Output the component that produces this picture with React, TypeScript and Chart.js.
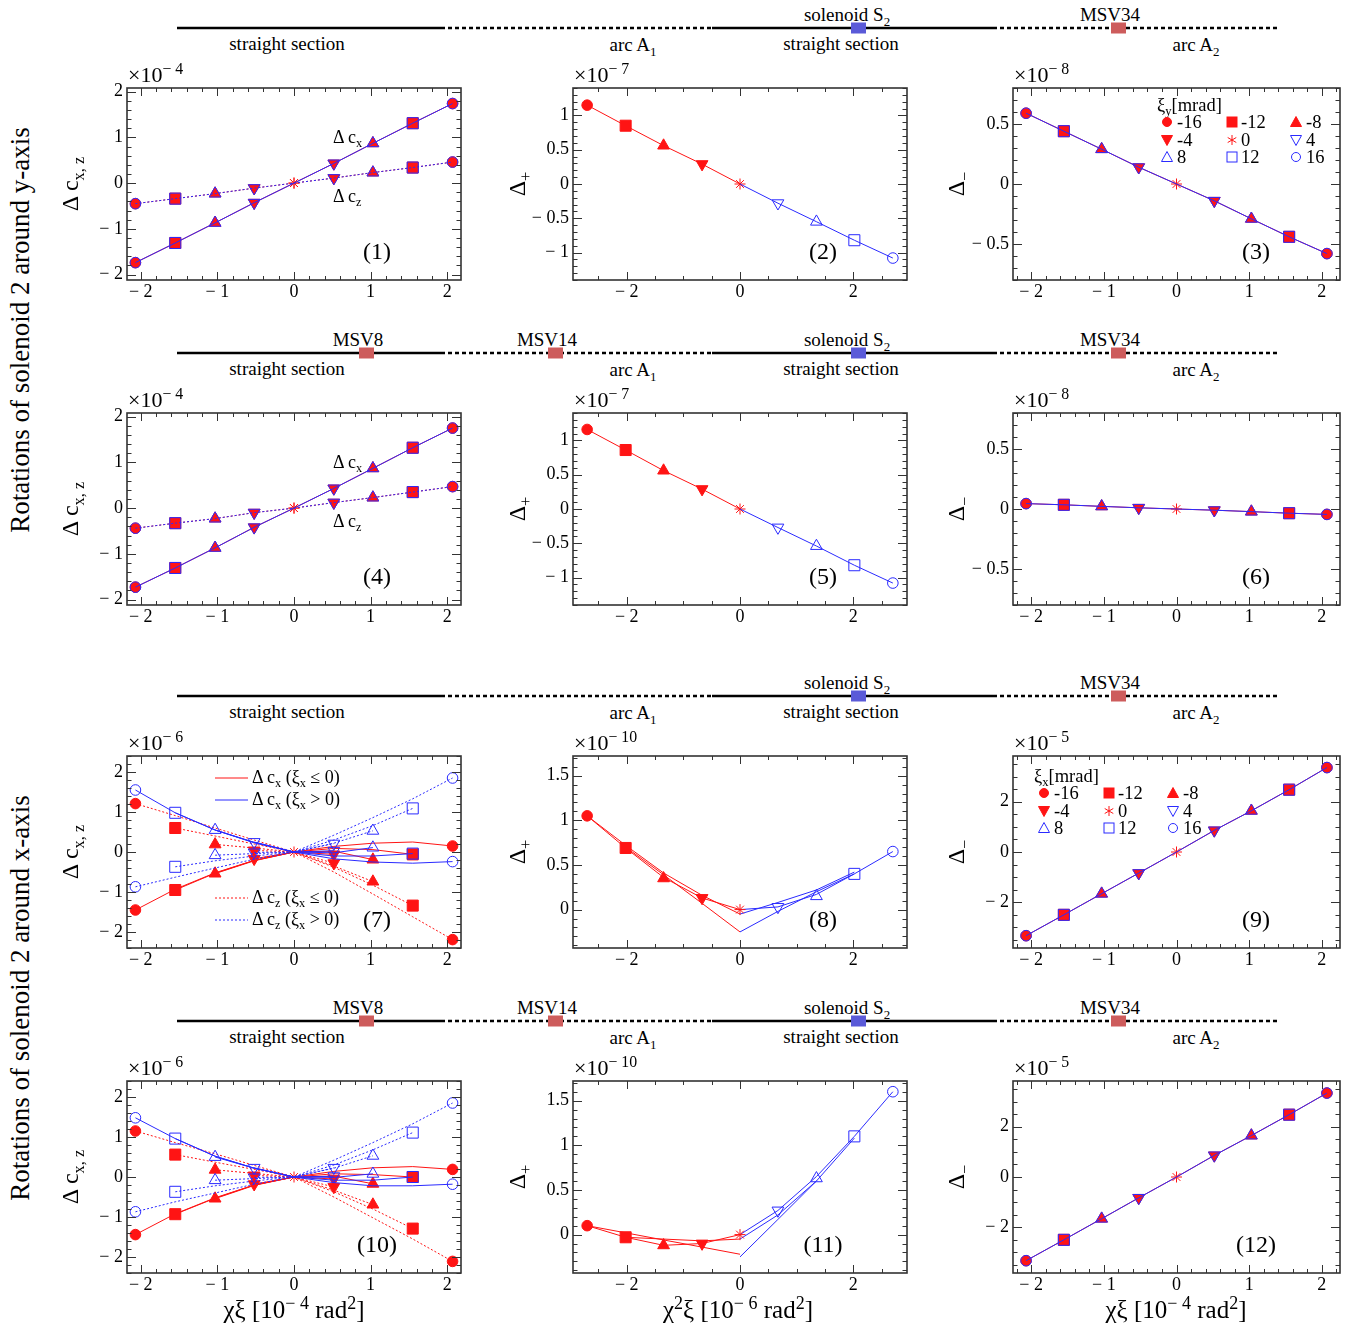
import React, { useRef, useEffect } from 'react';
import { Chart, registerables } from 'chart.js';

Chart.register(...registerables);

type V = number | null;

const FONT = '"Liberation Serif", "Times New Roman", serif';
const RED = '#ff1414';
const BLUE = '#2a2aff';
const MSV = '#cd5c5c';
const SOL = '#5a5ad8';

// x positions of the nine xi settings (-16 ... 16 mrad)
const chiXi: number[] = [-2.07, -1.55, -1.03, -0.52, 0, 0.52, 1.03, 1.55, 2.07];
const chi2Xi: number[] = [-2.7, -2.02, -1.35, -0.67, 0, 0.67, 1.35, 2.02, 2.7];
const xiLabels = ['-16', '-12', '-8', '-4', '0', '4', '8', '12', '16'];
const shapes = ['circle', 'rect', 'triangle', 'down', 'star', 'down', 'triangle', 'rect', 'circle'];

// tick labels
const xTicksA = [-2, -1, 0, 1, 2];
const xTicksB = [-2, 0, 2];
const yTicksDc = [-2, -1, 0, 1, 2];
const yTicksPlus = [-1, -0.5, 0, 0.5, 1];
const yTicksMinus = [-0.5, 0, 0.5];
const yTicksPlusX = [0, 0.5, 1, 1.5];
const yTicksMinusX = [-2, 0, 2];

// rotations around y-axis
const p1Dcx = [-1.74, -1.31, -0.87, -0.43, 0, 0.43, 0.87, 1.31, 1.74];
const p1Dcz = [-0.45, -0.34, -0.23, -0.11, 0, 0.11, 0.23, 0.34, 0.46];
const p2Dplus = [1.15, 0.85, 0.56, 0.29, 0, -0.28, -0.55, -0.82, -1.08];
const p3Dminus = [0.59, 0.44, 0.29, 0.14, 0, -0.14, -0.29, -0.44, -0.58];
const p4Dcx = [-1.73, -1.31, -0.87, -0.42, 0, 0.43, 0.87, 1.32, 1.75];
const p4Dcz = [-0.44, -0.33, -0.23, -0.1, 0, 0.12, 0.23, 0.35, 0.47];
const p5Dplus = [1.16, 0.86, 0.56, 0.29, 0, -0.27, -0.54, -0.82, -1.08];
const p6Dminus = [0.045, 0.035, 0.022, 0.01, 0, -0.01, -0.022, -0.035, -0.045];

// rotations around x-axis, panel 7: curves for xi = -16, -12, -8, -4 (red) and 16, 12, 8, 4 (blue)
const p7RedCx: V[][] = [
  [-1.45, -0.93, -0.52, -0.21, 0, 0.14, 0.22, 0.25, 0.15],
  [null, -0.95, -0.53, -0.21, 0, 0.09, 0.06, -0.06, null],
  [null, null, -0.54, -0.22, 0, 0.02, -0.19, null, null],
  [null, null, null, -0.17, 0, -0.06, null, null, null],
];
const p7RedCz: V[][] = [
  [1.21, 0.91, 0.6, 0.3, 0, -0.5, -1.05, -1.62, -2.19],
  [null, 0.6, 0.4, 0.2, 0, -0.38, -0.83, -1.34, null],
  [null, null, 0.19, 0.1, 0, -0.35, -0.74, null, null],
  [null, null, null, 0.04, 0, -0.28, null, null, null],
];
const p7BlueCx: V[][] = [
  [1.55, 0.98, 0.55, 0.23, 0, -0.17, -0.25, -0.28, -0.24],
  [null, 0.98, 0.55, 0.24, 0, -0.1, -0.1, -0.04, null],
  [null, null, 0.55, 0.24, 0, -0.02, 0.11, null, null],
  [null, null, null, 0.25, 0, 0.03, null, null, null],
];
const p7BlueCz: V[][] = [
  [-0.87, -0.63, -0.4, -0.18, 0, 0.42, 0.86, 1.33, 1.85],
  [null, -0.37, -0.22, -0.1, 0, 0.3, 0.66, 1.09, null],
  [null, null, -0.08, -0.04, 0, 0.22, 0.53, null, null],
  [null, null, null, -0.01, 0, 0.21, null, null, null],
];
// panel 8 (chi^2 xi axis)
const p8Red: V[][] = [
  [1.05, 0.69, 0.36, 0.13, 0, null, null, null, null],
  [1.05, 0.72, 0.41, 0.16, -0.05, null, null, null, null],
  [null, 0.7, 0.39, 0.07, -0.25, null, null, null, null],
];
const p8Blue: V[][] = [
  [null, null, null, null, 0, 0.03, 0.17, 0.4, 0.65],
  [null, null, null, null, -0.05, 0.08, 0.22, 0.42, null],
  [null, null, null, null, -0.25, -0.02, 0.2, 0.4, null],
];
const p8Marks = [1.05, 0.69, 0.35, 0.13, 0, 0.03, 0.15, 0.4, 0.65];
const p9Dminus = [-3.33, -2.5, -1.66, -0.84, 0, 0.86, 1.64, 2.48, 3.36];

// panel 10
const p10RedCx: V[][] = [
  [-1.44, -0.92, -0.52, -0.2, 0, 0.14, 0.23, 0.26, 0.19],
  [null, -0.93, -0.53, -0.2, 0, 0.08, 0.06, 0.0, null],
  [null, null, -0.54, -0.21, 0, 0.02, -0.17, null, null],
  [null, null, null, -0.18, 0, -0.05, null, null, null],
];
const p10RedCz: V[][] = [
  [1.15, 0.86, 0.58, 0.29, 0, -0.5, -1.02, -1.55, -2.11],
  [null, 0.56, 0.37, 0.19, 0, -0.37, -0.8, -1.29, null],
  [null, null, 0.18, 0.09, 0, -0.33, -0.69, null, null],
  [null, null, null, 0.04, 0, -0.25, null, null, null],
];
const p10BlueCx: V[][] = [
  [1.48, 0.96, 0.52, 0.22, 0, -0.14, -0.22, -0.22, -0.18],
  [null, 0.96, 0.52, 0.22, 0, -0.08, -0.08, 0.0, null],
  [null, null, 0.5, 0.22, 0, -0.01, 0.08, null, null],
  [null, null, null, 0.23, 0, 0.02, null, null, null],
];
const p10BlueCz: V[][] = [
  [-0.87, -0.62, -0.4, -0.18, 0, 0.42, 0.86, 1.33, 1.85],
  [null, -0.37, -0.22, -0.1, 0, 0.3, 0.68, 1.11, null],
  [null, null, -0.08, -0.04, 0, 0.22, 0.53, null, null],
  [null, null, null, -0.01, 0, 0.23, null, null, null],
];
// panel 11
const p11Red: V[][] = [
  [0.1, 0.02, -0.06, -0.14, -0.22, null, null, null, null],
  [0.1, -0.03, -0.05, -0.07, -0.05, null, null, null, null],
  [null, -0.03, -0.12, -0.1, 0, null, null, null, null],
];
const p11Blue: V[][] = [
  [null, null, null, null, 0, 0.27, 0.65, 1.1, 1.6],
  [null, null, null, null, -0.05, 0.22, 0.6, 1.08, null],
  [null, null, null, null, -0.25, 0.17, 0.6, null, null],
];
const p11Marks = [0.1, -0.03, -0.12, -0.1, 0, 0.27, 0.63, 1.1, 1.6];
const p12Dminus = [-3.33, -2.5, -1.66, -0.83, 0, 0.86, 1.65, 2.48, 3.34];

const RAD: Record<string, number> = { circle: 5.3, rect: 7.8, triangle: 6.8, down: 6.8, star: 5.5 };

function mkSet(
  xs: number[],
  ys: V[],
  color: string,
  filled: boolean,
  line: 'solid' | 'dot' | 'none',
  marks: 'all' | 'ends' | 'none',
  order: number
) {
  const pts = xs
    .map((x, k) => ({ x, y: ys[k], k }))
    .filter((p) => p.y !== null && p.y !== undefined) as { x: number; y: number; k: number }[];
  const k0 = pts[0].k;
  const k1 = pts[pts.length - 1].k;
  const shown = (k: number) =>
    (marks === 'all' || (marks === 'ends' && (k === k0 || k === k1))) && (filled || shapes[k] !== 'star');
  return {
    data: pts,
    showLine: line !== 'none',
    borderColor: color,
    borderWidth: 1,
    borderDash: line === 'dot' ? [2, 2] : [],
    backgroundColor: filled ? color : 'rgba(255,255,255,0)',
    pointStyle: pts.map((p) => (shapes[p.k] === 'down' ? 'triangle' : shapes[p.k])),
    pointRotation: pts.map((p) => (shapes[p.k] === 'down' ? 180 : 0)),
    pointRadius: pts.map((p) => (shown(p.k) ? RAD[shapes[p.k]] : 0)),
    pointBackgroundColor: filled ? color : 'rgba(255,255,255,0)',
    pointBorderColor: color,
    pointBorderWidth: 1,
    order,
  };
}

const leftHalf = (v: V[]) => v.map((y, k) => (k <= 4 ? y : null));
const rightHalf = (v: V[]) => v.map((y, k) => (k >= 4 ? y : null));

const dcSets = (cx: V[], cz: V[]) => [
  mkSet(chiXi, cx, BLUE, false, 'solid', 'all', 0),
  mkSet(chiXi, cz, BLUE, false, 'dot', 'all', 0),
  mkSet(chiXi, cx, RED, true, 'solid', 'all', 1),
  mkSet(chiXi, cz, RED, true, 'dot', 'all', 1),
];
const lineSets = (v: V[]) => [
  mkSet(chiXi, v, BLUE, false, 'solid', 'all', 0),
  mkSet(chiXi, v, RED, true, 'solid', 'all', 1),
];
const plusSets = (v: V[]) => [
  mkSet(chi2Xi, rightHalf(v), BLUE, false, 'solid', 'all', 0),
  mkSet(chi2Xi, leftHalf(v), RED, true, 'solid', 'all', 1),
];
const curveSets = (rcx: V[][], rcz: V[][], bcx: V[][], bcz: V[][]) => [
  ...bcx.map((c) => mkSet(chiXi, c, BLUE, false, 'solid', 'ends', 0)),
  ...bcz.map((c) => mkSet(chiXi, c, BLUE, false, 'dot', 'ends', 0)),
  ...rcx.map((c) => mkSet(chiXi, c, RED, true, 'solid', 'ends', 1)),
  ...rcz.map((c) => mkSet(chiXi, c, RED, true, 'dot', 'ends', 1)),
  mkSet(chiXi, [null, null, null, null, 0, null, null, null, null], RED, true, 'none', 'all', 0),
];
const vSets = (red: V[][], blue: V[][], marks: V[]) => [
  ...blue.map((c) => mkSet(chi2Xi, c, BLUE, false, 'solid', 'none', 1)),
  ...red.map((c) => mkSet(chi2Xi, c, RED, false, 'solid', 'none', 1)),
  mkSet(chi2Xi, rightHalf(marks).map((y, k) => (k === 4 ? null : y)), BLUE, false, 'none', 'all', 0),
  mkSet(chi2Xi, leftHalf(marks), RED, true, 'none', 'all', 0),
];

const framePlugin = {
  id: 'frame',
  afterDraw(chart: any, _args: any, o: any) {
    const { ctx, chartArea: a } = chart;
    const sx = chart.scales.x;
    const sy = chart.scales.y;
    const marks = (min: number, max: number, major: number, minor: number) => {
      const out: [number, boolean][] = [];
      const n0 = Math.ceil(min / minor - 1e-6);
      const n1 = Math.floor(max / minor + 1e-6);
      for (let n = n0; n <= n1; n++) {
        const v = n * minor;
        const r = v / major;
        out.push([v, Math.abs(r - Math.round(r)) < 1e-6]);
      }
      return out;
    };
    ctx.save();
    ctx.strokeStyle = '#333';
    ctx.lineWidth = 1;
    ctx.beginPath();
    for (const [v, big] of marks(sx.min, sx.max, o.xMajor, o.xMinor)) {
      const px = Math.round(sx.getPixelForValue(v)) + 0.5;
      const len = big ? 8 : 4;
      ctx.moveTo(px, a.bottom);
      ctx.lineTo(px, a.bottom - len);
      ctx.moveTo(px, a.top);
      ctx.lineTo(px, a.top + len);
    }
    for (const [v, big] of marks(sy.min, sy.max, o.yMajor, o.yMinor)) {
      const py = Math.round(sy.getPixelForValue(v)) + 0.5;
      const len = big ? 9 : 4.5;
      ctx.moveTo(a.left, py);
      ctx.lineTo(a.left + len, py);
      ctx.moveTo(a.right, py);
      ctx.lineTo(a.right - len, py);
    }
    ctx.stroke();
    ctx.lineWidth = 1.6;
    ctx.strokeRect(a.left, a.top, a.right - a.left, a.bottom - a.top);
    ctx.restore();
  },
};

const fmt = (v: any) => (Number(v) < 0 ? '\u2212 ' + String(-Number(v)) : String(v));

const PADL = 54;
const PADT = 24;
const PADR = 24;
const PADB = 30;

interface PanelProps {
  left: number;
  top: number;
  width: number;
  height: number;
  xr: [number, number];
  yr: [number, number];
  xTicks: number[];
  yTicks: number[];
  xStep: [number, number];
  yStep: [number, number];
  datasets: any[];
}

const Panel: React.FC<PanelProps> = (p) => {
  const ref = useRef<HTMLCanvasElement>(null);

  useEffect(() => {
    if (!ref.current) return;
    const tickFont = { family: FONT, size: 18 };
    const chart = new Chart(ref.current, {
      type: 'scatter',
      data: { datasets: p.datasets },
      options: {
        animation: false,
        responsive: true,
        maintainAspectRatio: false,
        events: [],
        layout: { padding: { left: 0, top: PADT, right: PADR, bottom: 0 } },
        plugins: {
          legend: { display: false },
          tooltip: { enabled: false },
          frame: { xMajor: p.xStep[0], xMinor: p.xStep[1], yMajor: p.yStep[0], yMinor: p.yStep[1] },
        } as any,
        scales: {
          x: {
            type: 'linear',
            min: p.xr[0],
            max: p.xr[1],
            afterBuildTicks: (s: any) => {
              s.ticks = p.xTicks.map((v) => ({ value: v }));
            },
            afterFit: (s: any) => {
              s.height = PADB;
            },
            grid: { display: false, drawTicks: false },
            border: { display: false },
            ticks: { font: tickFont, color: '#000', padding: 1, maxRotation: 0, autoSkip: false, callback: fmt },
          },
          y: {
            type: 'linear',
            min: p.yr[0],
            max: p.yr[1],
            afterBuildTicks: (s: any) => {
              s.ticks = p.yTicks.map((v) => ({ value: v }));
            },
            afterFit: (s: any) => {
              s.width = PADL;
            },
            grid: { display: false, drawTicks: false },
            border: { display: false },
            ticks: { font: tickFont, color: '#000', padding: 4, autoSkip: false, callback: fmt },
          },
        },
      },
      plugins: [framePlugin],
    });
    return () => chart.destroy();
  }, []);

  return (
    <div
      style={{
        position: 'absolute',
        left: p.left - PADL,
        top: p.top - PADT,
        width: p.width + PADL + PADR,
        height: p.height + PADT + PADB,
      }}
    >
      <canvas ref={ref} />
    </div>
  );
};

const Sub: React.FC<{ children: React.ReactNode }> = ({ children }) => (
  <span style={{ fontSize: '0.68em', position: 'relative', top: '0.35em' }}>{children}</span>
);
const Sup: React.FC<{ children: React.ReactNode }> = ({ children }) => (
  <span style={{ fontSize: '0.72em', position: 'relative', top: '-0.5em' }}>{children}</span>
);

const Label: React.FC<{
  x: number;
  y: number;
  size?: number;
  left?: boolean;
  rotate?: boolean;
  children: React.ReactNode;
}> = ({ x, y, size = 19, left = false, rotate = false, children }) => (
  <div
    style={{
      position: 'absolute',
      left: x,
      top: y,
      transform: `translate(${left ? '0' : '-50%'},-50%)${rotate ? ' rotate(-90deg)' : ''}`,
      fontSize: size,
      lineHeight: 1,
      whiteSpace: 'nowrap',
      color: '#000',
    }}
  >
    {children}
  </div>
);

const Mark: React.FC<{ x: number; y: number; shape: string; filled: boolean; color: string }> = ({
  x,
  y,
  shape,
  filled,
  color,
}) => {
  const f = filled ? color : 'none';
  let el: React.ReactNode = null;
  if (shape === 'circle') el = <circle cx={7} cy={7} r={4.5} fill={f} stroke={color} />;
  if (shape === 'rect') el = <rect x={2} y={2} width={10} height={10} fill={f} stroke={color} />;
  if (shape === 'triangle') el = <polygon points="7,1.5 12.5,11.5 1.5,11.5" fill={f} stroke={color} />;
  if (shape === 'down') el = <polygon points="1.5,2.5 12.5,2.5 7,12.5" fill={f} stroke={color} />;
  if (shape === 'star')
    el = (
      <path d="M7 2 V12 M2.7 4.5 L11.3 9.5 M2.7 9.5 L11.3 4.5" stroke={color} strokeWidth={1} fill="none" />
    );
  return (
    <svg style={{ position: 'absolute', left: x - 7, top: y - 7 }} width={14} height={14}>
      {el}
    </svg>
  );
};

const XiLegend: React.FC<{ x: number; y: number; axis: string }> = ({ x, y, axis }) => {
  const colM = [10, 75, 139];
  const colT = [20, 84, 149];
  return (
    <>
      <Label x={x} y={y} left size={18.5}>
        ξ<Sub>{axis}</Sub>[mrad]
      </Label>
      {xiLabels.map((t, i) => {
        const row = Math.floor(i / 3);
        const col = i % 3;
        const neg = i <= 4;
        return (
          <React.Fragment key={t}>
            <Mark x={x + colM[col]} y={y + 17 + row * 17.5} shape={shapes[i]} filled={neg} color={neg ? RED : BLUE} />
            <Label x={x + colT[col]} y={y + 17 + row * 17.5} left size={18.5}>
              {t}
            </Label>
          </React.Fragment>
        );
      })}
    </>
  );
};

const Beamline: React.FC<{ y: number; full: boolean }> = ({ y, full }) => (
  <>
    <svg style={{ position: 'absolute', left: 0, top: y - 10 }} width={1354} height={20}>
      <line x1={177} x2={441} y1={10} y2={10} stroke="#000" strokeWidth={2.3} />
      <line x1={441} x2={712} y1={10} y2={10} stroke="#000" strokeWidth={2.3} strokeDasharray="4 3" />
      <line x1={712} x2={993} y1={10} y2={10} stroke="#000" strokeWidth={2.3} />
      <line x1={993} x2={1277} y1={10} y2={10} stroke="#000" strokeWidth={2.3} strokeDasharray="4 3" />
      {full && <rect x={359} y={4.5} width={15} height={11} fill={MSV} />}
      {full && <rect x={548} y={4.5} width={15} height={11} fill={MSV} />}
      <rect x={851} y={4.5} width={15} height={11} fill={SOL} />
      <rect x={1111} y={4.5} width={15} height={11} fill={MSV} />
    </svg>
    <Label x={287} y={y + 15}>straight section</Label>
    <Label x={633} y={y + 16}>
      arc A<Sub>1</Sub>
    </Label>
    <Label x={841} y={y + 15}>straight section</Label>
    <Label x={1196} y={y + 16}>
      arc A<Sub>2</Sub>
    </Label>
    <Label x={847} y={y - 14}>
      solenoid S<Sub>2</Sub>
    </Label>
    <Label x={1110} y={y - 14}>MSV34</Label>
    {full && <Label x={358} y={y - 14}>MSV8</Label>}
    {full && <Label x={547} y={y - 14}>MSV14</Label>}
  </>
);

const COLS = [
  { left: 127, width: 334, xr: [-2.18, 2.18] as [number, number], xTicks: xTicksA, xStep: [1, 0.2] as [number, number] },
  { left: 573, width: 334, xr: [-2.95, 2.95] as [number, number], xTicks: xTicksB, xStep: [2, 0.5] as [number, number] },
  { left: 1013, width: 327, xr: [-2.25, 2.25] as [number, number], xTicks: xTicksA, xStep: [1, 0.2] as [number, number] },
];
const ROWS = [88, 413, 756, 1081];
const H = 192;

const Exp: React.FC<{ x: number; top: number; e: string }> = ({ x, top, e }) => (
  <Label x={x} y={top - 13} left size={22}>
    ×10<Sup>{'\u2212 ' + e}</Sup>
  </Label>
);

const LegLine: React.FC<{ y: number; color: string; dot: boolean }> = ({ y, color, dot }) => (
  <svg style={{ position: 'absolute', left: 214, top: y - 3 }} width={36} height={6}>
    <line x1={1} x2={34} y1={3} y2={3} stroke={color} strokeWidth={1} strokeDasharray={dot ? '2 2' : undefined} />
  </svg>
);

export default function App() {
  const panels = [
    { r: 0, c: 0, yr: [-2.12, 2.08], yTicks: yTicksDc, yStep: [1, 0.2], ds: dcSets(p1Dcx, p1Dcz) },
    { r: 0, c: 1, yr: [-1.4, 1.4], yTicks: yTicksPlus, yStep: [0.5, 0.1], ds: plusSets(p2Dplus) },
    { r: 0, c: 2, yr: [-0.8, 0.8], yTicks: yTicksMinus, yStep: [0.5, 0.1], ds: lineSets(p3Dminus) },
    { r: 1, c: 0, yr: [-2.12, 2.08], yTicks: yTicksDc, yStep: [1, 0.2], ds: dcSets(p4Dcx, p4Dcz) },
    { r: 1, c: 1, yr: [-1.4, 1.4], yTicks: yTicksPlus, yStep: [0.5, 0.1], ds: plusSets(p5Dplus) },
    { r: 1, c: 2, yr: [-0.8, 0.8], yTicks: yTicksMinus, yStep: [0.5, 0.1], ds: lineSets(p6Dminus) },
    { r: 2, c: 0, yr: [-2.4, 2.4], yTicks: yTicksDc, yStep: [1, 0.2], ds: curveSets(p7RedCx, p7RedCz, p7BlueCx, p7BlueCz) },
    { r: 2, c: 1, yr: [-0.43, 1.72], yTicks: yTicksPlusX, yStep: [0.5, 0.1], ds: vSets(p8Red, p8Blue, p8Marks) },
    { r: 2, c: 2, yr: [-3.82, 3.82], yTicks: yTicksMinusX, yStep: [2, 0.5], ds: lineSets(p9Dminus) },
    { r: 3, c: 0, yr: [-2.4, 2.4], yTicks: yTicksDc, yStep: [1, 0.2], ds: curveSets(p10RedCx, p10RedCz, p10BlueCx, p10BlueCz) },
    { r: 3, c: 1, yr: [-0.43, 1.72], yTicks: yTicksPlusX, yStep: [0.5, 0.1], ds: vSets(p11Red, p11Blue, p11Marks) },
    { r: 3, c: 2, yr: [-3.82, 3.82], yTicks: yTicksMinusX, yStep: [2, 0.5], ds: lineSets(p12Dminus) },
  ];
  const exps = [
    ['4', '7', '8'],
    ['4', '7', '8'],
    ['6', '10', '5'],
    ['6', '10', '5'],
  ];
  const yTitleX = [70, 517, 956];

  return (
    <div
      style={{
        position: 'absolute',
        left: 0,
        top: 0,
        width: 1354,
        height: 1328,
        background: '#fff',
        fontFamily: FONT,
        overflow: 'hidden',
      }}
    >
      {panels.map((p, i) => {
        const col = COLS[p.c];
        return (
          <Panel
            key={i}
            left={col.left}
            top={ROWS[p.r]}
            width={col.width}
            height={H}
            xr={col.xr}
            yr={p.yr as [number, number]}
            xTicks={col.xTicks}
            yTicks={p.yTicks}
            xStep={col.xStep}
            yStep={p.yStep as [number, number]}
            datasets={p.ds}
          />
        );
      })}

      <Beamline y={28} full={false} />
      <Beamline y={353} full />
      <Beamline y={696} full={false} />
      <Beamline y={1021} full />

      {ROWS.map((top, r) => (
        <React.Fragment key={r}>
          {COLS.map((col, c) => (
            <React.Fragment key={c}>
              <Exp x={col.left + 1} top={top} e={exps[r][c]} />
              <Label x={col.left + col.width - 84} y={top + H - 29} size={24}>
                ({r * 3 + c + 1})
              </Label>
            </React.Fragment>
          ))}
          <Label x={yTitleX[0]} y={top + 96} size={24} rotate>
            Δ c<Sub>x, z</Sub>
          </Label>
          <Label x={yTitleX[1]} y={top + 96} size={24} rotate>
            Δ<Sub>+</Sub>
          </Label>
          <Label x={yTitleX[2]} y={top + 96} size={24} rotate>
            Δ<Sub>−</Sub>
          </Label>
        </React.Fragment>
      ))}

      {[0, 1].map((r) => (
        <React.Fragment key={r}>
          <Label x={333} y={ROWS[r] + 49} left size={18}>
            Δ c<Sub>x</Sub>
          </Label>
          <Label x={333} y={ROWS[r] + 108} left size={18}>
            Δ c<Sub>z</Sub>
          </Label>
        </React.Fragment>
      ))}

      <XiLegend x={1157} y={ROWS[0] + 17} axis="y" />
      <XiLegend x={1034} y={ROWS[2] + 20} axis="x" />

      <LegLine y={ROWS[2] + 22} color={RED} dot={false} />
      <Label x={252} y={ROWS[2] + 21} left size={18}>
        Δ c<Sub>x</Sub> (ξ<Sub>x</Sub> ≤ 0)
      </Label>
      <LegLine y={ROWS[2] + 44} color={BLUE} dot={false} />
      <Label x={252} y={ROWS[2] + 43} left size={18}>
        Δ c<Sub>x</Sub> (ξ<Sub>x</Sub> &gt; 0)
      </Label>
      <LegLine y={ROWS[2] + 142} color={RED} dot />
      <Label x={252} y={ROWS[2] + 141} left size={18}>
        Δ c<Sub>z</Sub> (ξ<Sub>x</Sub> ≤ 0)
      </Label>
      <LegLine y={ROWS[2] + 164} color={BLUE} dot />
      <Label x={252} y={ROWS[2] + 163} left size={18}>
        Δ c<Sub>z</Sub> (ξ<Sub>x</Sub> &gt; 0)
      </Label>

      <Label x={294} y={1309} size={25}>
        χξ [10<Sup>− 4</Sup> rad<Sup>2</Sup>]
      </Label>
      <Label x={738} y={1309} size={25}>
        χ<Sup>2</Sup>ξ [10<Sup>− 6</Sup> rad<Sup>2</Sup>]
      </Label>
      <Label x={1176} y={1309} size={25}>
        χξ [10<Sup>− 4</Sup> rad<Sup>2</Sup>]
      </Label>

      <Label x={20} y={330} size={27} rotate>
        Rotations of solenoid 2 around y-axis
      </Label>
      <Label x={20} y={998} size={27} rotate>
        Rotations of solenoid 2 around x-axis
      </Label>
    </div>
  );
}
